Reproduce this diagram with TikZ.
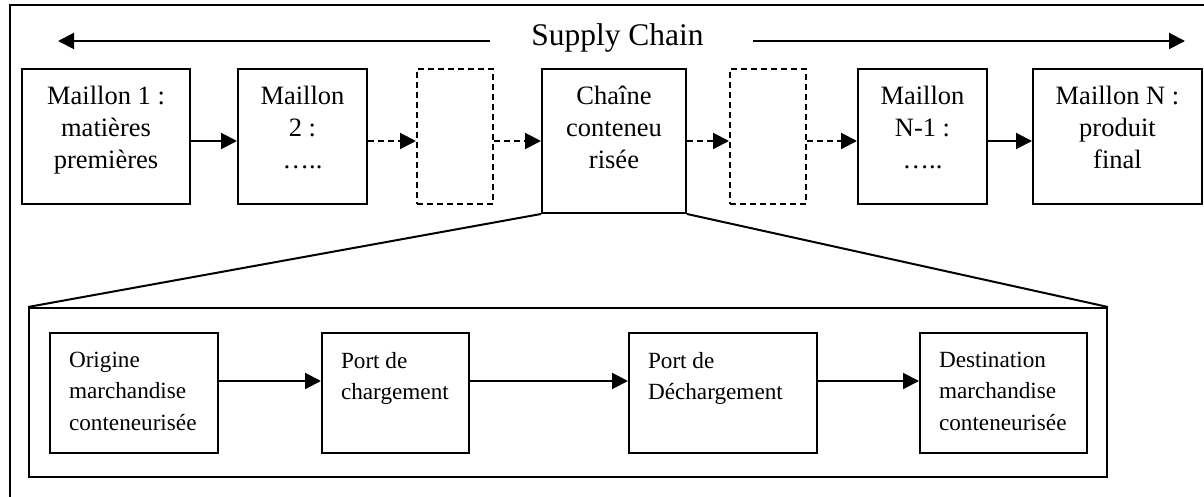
\documentclass[tikz,border=0pt]{standalone}
\usepackage{fontspec}
\setmainfont{Liberation Serif}
\usetikzlibrary{arrows.meta}
\begin{document}
\begin{tikzpicture}[x=0.5pt,y=-0.5pt, line width=1pt,
  box/.style={draw, rectangle, inner sep=0pt},
  dbox/.style={box, dash pattern=on 3pt off 2pt},
  toptxt/.style={anchor=north, align=center, inner sep=0pt, font=\fontsize{13.25pt}{16pt}\selectfont},
  bottxt/.style={anchor=north west, align=left, inner sep=0pt, font=\fontsize{11.6pt}{15.75pt}\selectfont},
  titletxt/.style={anchor=base, inner sep=0pt, font=\fontsize{15.75pt}{18pt}\selectfont},
  arr/.style={-{Triangle[length=8pt,width=8pt]}},
  darr/.style={arr, dash pattern=on 3pt off 2pt}]
\useasboundingbox (0,0) rectangle (1204,497);
% outer frame (partly cropped)
\draw (10,497) -- (10,5) -- (1204,5);
% title and long arrows
\node[titletxt] (sc) at (617.5,46) {Supply Chain};
\coordinate (la) at (490,41);
\coordinate (lt) at (58,41);
\coordinate (ra) at (753,41);
\coordinate (rt) at (1185,41);
\draw[arr] (la) -- (lt);
\draw[arr] (ra) -- (rt);
% top row
\node[box, minimum width=84pt, minimum height=67.5pt] (b1) at (106,136.5) {};
\node[box, minimum width=64.5pt, minimum height=67.5pt] (b2) at (302.5,136.5) {};
\node[dbox, minimum width=38pt, minimum height=67.5pt] (d1) at (455,136.5) {};
\node[box, minimum width=72pt, minimum height=72pt] (ch) at (614,141) {};
\node[dbox, minimum width=38pt, minimum height=67.5pt] (d2) at (768,136.5) {};
\node[box, minimum width=64.5pt, minimum height=67.5pt] (bn1) at (922.5,136.5) {};
\node[box, minimum width=84.5pt, minimum height=67.5pt] (bn) at (1117.5,136.5) {};
\node[toptxt] (t1) at (106,85) {Maillon 1 :\\matières\\premières};
\node[toptxt] (t2) at (302.5,85) {Maillon\\2 :\\…..};
\node[toptxt] (tch) at (614,85) {Chaîne\\conteneu\\risée};
\node[toptxt] (tn1) at (922.5,85) {Maillon\\N-1 :\\…..};
\node[toptxt] (tn) at (1117.5,85) {Maillon N :\\produit\\final};
\draw[arr] (b1.east |- ch.west) -- (b2.west |- ch.west);
\draw[darr] (b2.east |- ch.west) -- (d1.west |- ch.west);
\draw[darr] (d1.east |- ch.west) -- (ch.west);
\draw[darr] (ch.east) -- (d2.west |- ch.east);
\draw[darr] (d2.east |- ch.east) -- (bn1.west |- ch.east);
\draw[arr] (bn1.east |- ch.east) -- (bn.west |- ch.east);
% zoom box
\node[box, minimum width=539pt, minimum height=84.5pt] (big) at (568,392.5) {};
\draw (ch.south west) -- (big.north west);
\draw (ch.south east) -- (big.north east);
\node[box, minimum width=84pt, minimum height=60pt] (o) at (134,393) {};
\node[box, minimum width=73.5pt, minimum height=60pt] (pc) at (395.5,393) {};
\node[box, minimum width=94pt, minimum height=60pt] (pd) at (723,393) {};
\node[box, minimum width=83.5pt, minimum height=60pt] (de) at (1003.5,393) {};
\node[bottxt] (to) at (68,351) {Origine\\marchandise\\conteneurisée};
\node[bottxt] (tpc) at (340,351) {Port de\\chargement};
\node[bottxt] (tpd) at (647,351) {Port de\\Déchargement};
\node[bottxt] (tde) at (938,351) {Destination\\marchandise\\conteneurisée};
\draw[arr] ([yshift=6pt]o.east) -- ([yshift=6pt]pc.west);
\draw[arr] ([yshift=6pt]pc.east) -- ([yshift=6pt]pd.west);
\draw[arr] ([yshift=6pt]pd.east) -- ([yshift=6pt]de.west);
\end{tikzpicture}
\end{document}
